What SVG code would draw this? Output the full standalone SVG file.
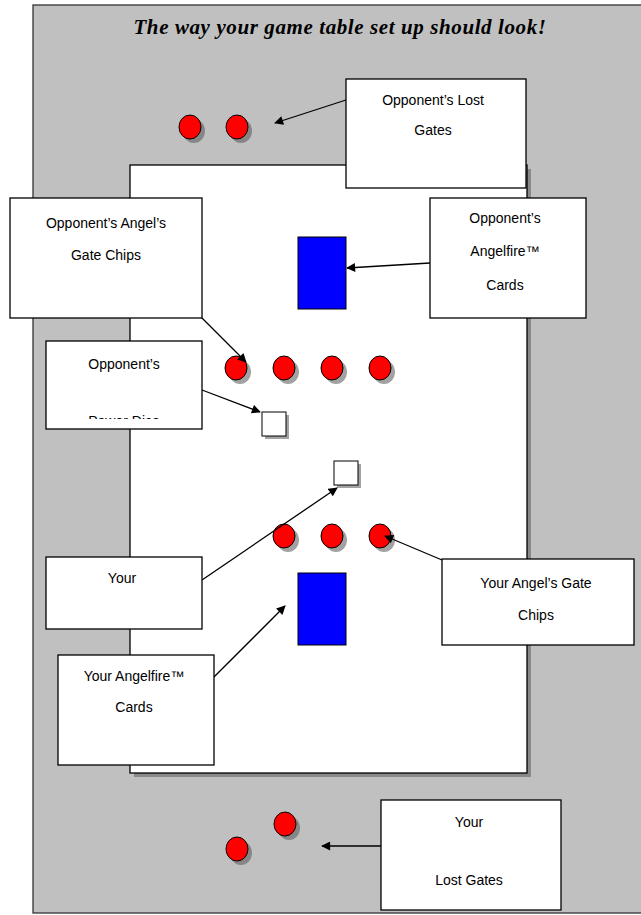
<svg xmlns="http://www.w3.org/2000/svg" width="641" height="915" viewBox="0 0 641 915">
<style>
.lbl{font-family:"Liberation Sans",Arial,sans-serif;font-size:14px;fill:#000;text-anchor:middle}
.box{fill:#fff;stroke:#000;stroke-width:1.3}
.chip{fill:#f00;stroke:#000;stroke-width:1}
.sh{fill:#555;opacity:0.55}
.con{stroke:#000;stroke-width:1.3;fill:none;marker-end:url(#ah)}
</style>
<defs>
<marker id="ah" viewBox="0 0 10 10" refX="9" refY="5" markerWidth="10" markerHeight="9" markerUnits="userSpaceOnUse" orient="auto"><path d="M0,0 L10,5 L0,10 z" fill="#000"/></marker>
<clipPath id="clipPD"><rect x="46" y="341" width="156" height="78"/></clipPath>
</defs>
<rect x="33" y="5" width="620" height="908" fill="#c0c0c0" stroke="#333" stroke-width="1.3"/>
<text x="340" y="34" font-family="'Liberation Serif',serif" font-size="21" font-weight="bold" font-style="italic" letter-spacing="0.6" text-anchor="middle">The way your game table set up should look!</text>
<g id="table">
<rect x="134" y="169" width="397" height="608" fill="#888"/>
<rect x="130" y="165" width="397" height="608" fill="#fff" stroke="#000" stroke-width="1.3"/>
</g>
<g id="opp-lost-chips">
<ellipse class="sh" cx="194" cy="131" rx="11" ry="12"/><ellipse class="chip" cx="190" cy="127" rx="11" ry="12"/>
<ellipse class="sh" cx="241" cy="131" rx="11" ry="12"/><ellipse class="chip" cx="237" cy="127" rx="11" ry="12"/>
</g>
<g id="opp-card">
<rect x="298" y="237" width="48" height="72" fill="#00f" stroke="#000" stroke-width="1"/>
</g>
<g id="opp-gate-chips">
<ellipse class="sh" cx="240" cy="372" rx="11" ry="12"/><ellipse class="chip" cx="236" cy="368" rx="11" ry="12"/>
<ellipse class="sh" cx="288" cy="372" rx="11" ry="12"/><ellipse class="chip" cx="284" cy="368" rx="11" ry="12"/>
<ellipse class="sh" cx="336" cy="372" rx="11" ry="12"/><ellipse class="chip" cx="332" cy="368" rx="11" ry="12"/>
<ellipse class="sh" cx="384" cy="372" rx="11" ry="12"/><ellipse class="chip" cx="380" cy="368" rx="11" ry="12"/>
</g>
<g id="opp-die">
<rect x="265" y="415" width="24" height="24" fill="#666" opacity="0.6"/>
<rect x="262" y="412" width="24" height="24" fill="#fff" stroke="#000" stroke-width="1"/>
</g>
<g id="your-die">
<rect x="337" y="464" width="24" height="24" fill="#666" opacity="0.6"/>
<rect x="334" y="461" width="24" height="24" fill="#fff" stroke="#000" stroke-width="1"/>
</g>
<g id="your-gate-chips">
<ellipse class="sh" cx="288" cy="540" rx="11" ry="12"/><ellipse class="chip" cx="284" cy="536" rx="11" ry="12"/>
<ellipse class="sh" cx="336" cy="540" rx="11" ry="12"/><ellipse class="chip" cx="332" cy="536" rx="11" ry="12"/>
<ellipse class="sh" cx="384" cy="540" rx="11" ry="12"/><ellipse class="chip" cx="380" cy="536" rx="11" ry="12"/>
</g>
<g id="your-card">
<rect x="298" y="573" width="48" height="72" fill="#00f" stroke="#000" stroke-width="1"/>
</g>
<g id="your-lost-chips">
<ellipse class="sh" cx="289" cy="828" rx="11" ry="12"/><ellipse class="chip" cx="285" cy="824" rx="11" ry="12"/>
<ellipse class="sh" cx="241" cy="853" rx="11" ry="12"/><ellipse class="chip" cx="237" cy="849" rx="11" ry="12"/>
</g>
<g id="connectors">
<line class="con" x1="346" y1="100" x2="275" y2="123"/>
<line class="con" x1="430" y1="263" x2="347" y2="268"/>
<line class="con" x1="202" y1="318" x2="246" y2="362"/>
<line class="con" x1="202" y1="390" x2="260" y2="412"/>
<line class="con" x1="202" y1="580" x2="337" y2="488"/>
<line class="con" x1="442" y1="560" x2="385" y2="536"/>
<line class="con" x1="214" y1="677" x2="285" y2="606"/>
<line class="con" x1="381" y1="846" x2="322" y2="846"/>
</g>
<g id="box-opp-lost">
<rect class="box" x="346" y="79" width="180" height="109"/>
<text class="lbl" x="433" y="105">Opponent’s Lost</text>
<text class="lbl" x="433" y="135">Gates</text>
</g>
<g id="box-opp-gate-chips">
<rect class="box" x="10" y="198" width="192" height="120"/>
<text class="lbl" x="106" y="228">Opponent’s  Angel’s</text>
<text class="lbl" x="106" y="260">Gate Chips</text>
</g>
<g id="box-opp-angelfire">
<rect class="box" x="430" y="198" width="156" height="120"/>
<text class="lbl" x="505" y="223">Opponent’s</text>
<text class="lbl" x="505" y="256">Angelfire™</text>
<text class="lbl" x="505" y="290">Cards</text>
</g>
<g id="box-opp-dice">
<rect class="box" x="46" y="341" width="156" height="88"/>
<text class="lbl" x="124" y="369">Opponent’s</text>
<text class="lbl" x="124" y="426" clip-path="url(#clipPD)">Power Dice</text>
</g>
<g id="box-your-dice">
<rect class="box" x="46" y="557" width="156" height="72"/>
<text class="lbl" x="122" y="583">Your</text>
</g>
<g id="box-your-gate-chips">
<rect class="box" x="442" y="559" width="192" height="86"/>
<text class="lbl" x="536" y="588">Your Angel’s  Gate</text>
<text class="lbl" x="536" y="620">Chips</text>
</g>
<g id="box-your-angelfire">
<rect class="box" x="58" y="655" width="156" height="110"/>
<text class="lbl" x="134" y="681">Your Angelfire™</text>
<text class="lbl" x="134" y="712">Cards</text>
</g>
<g id="box-your-lost">
<rect class="box" x="381" y="800" width="180" height="110"/>
<text class="lbl" x="469" y="827">Your</text>
<text class="lbl" x="469" y="885">Lost Gates</text>
</g>
</svg>
